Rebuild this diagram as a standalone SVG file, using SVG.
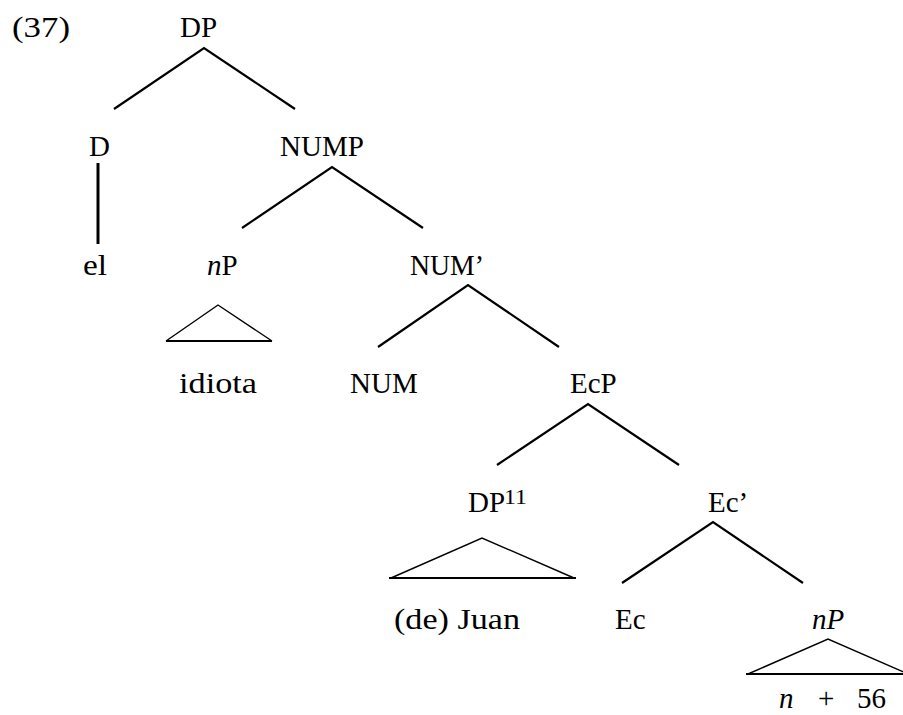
<svg xmlns="http://www.w3.org/2000/svg" width="903" height="715" viewBox="0 0 903 715">
<style>
text{font-family:"Liberation Serif","Times New Roman",serif;font-size:29px;fill:#000}
.it{font-style:italic}
.sup{font-size:20px}
.edge{fill:none;stroke:#000;stroke-width:2.2;stroke-linecap:butt;stroke-linejoin:miter}
.vert{fill:none;stroke:#000;stroke-width:3}
.tri{fill:none;stroke:#000;stroke-width:1.4;stroke-linejoin:miter}
.base{fill:none;stroke:#000;stroke-width:2}
</style>
<rect width="903" height="715" fill="#fff"/>
<g id="label37"><text x="12" y="37" textLength="58" lengthAdjust="spacingAndGlyphs">(37)</text></g>
<g id="node-DP"><text x="180" y="37">DP</text></g>
<g id="node-D"><text x="89" y="156">D</text></g>
<g id="node-NUMP"><text x="280" y="156">NUMP</text></g>
<g id="node-el"><text x="83" y="275" textLength="24" lengthAdjust="spacingAndGlyphs">el</text></g>
<g id="node-nP1"><text x="207" y="275"><tspan class="it">n</tspan>P</text></g>
<g id="node-NUMbar"><text x="410" y="275" textLength="74" lengthAdjust="spacingAndGlyphs">NUM’</text></g>
<g id="node-idiota"><text x="179" y="393" textLength="78" lengthAdjust="spacingAndGlyphs">idiota</text></g>
<g id="node-NUM"><text x="350" y="393">NUM</text></g>
<g id="node-EcP"><text x="570" y="393">EcP</text></g>
<g id="node-DP11"><text x="468" y="512">DP</text><text class="sup" x="504" y="504" textLength="23" lengthAdjust="spacingAndGlyphs">11</text></g>
<g id="node-Ecbar"><text x="708" y="512">Ec’</text></g>
<g id="node-Juan"><text x="394" y="629" textLength="126" lengthAdjust="spacingAndGlyphs">(de) Juan</text></g>
<g id="node-Ec"><text x="615" y="629">Ec</text></g>
<g id="node-nP2"><text class="it" x="812" y="629">nP</text></g>
<g id="node-n56"><text class="it" x="779" y="708">n</text><text x="818" y="708" font-size="32">+</text><text x="857" y="708">56</text></g>
<g id="connectors">
<path class="edge" d="M114,109 L204,48 L295,109"/>
<path class="edge" d="M242,228 L332,167 L423,228"/>
<path class="edge" d="M378,347 L468,285 L559,347"/>
<path class="edge" d="M497,465 L588,404 L679,465"/>
<path class="edge" d="M622,583 L713,522 L803,583"/>
<path class="vert" d="M98,163 V244"/>
<path class="tri" d="M166,341 L218,305 L272,341"/>
<path class="base" d="M166,341 H272"/>
<path class="tri" d="M391,578 L482,538 L574,578"/>
<path class="base" d="M389,578 H576"/>
<path class="tri" d="M748,674 L828,639 L908,674"/>
<path class="base" d="M746,674 H910"/>
</g>
</svg>
